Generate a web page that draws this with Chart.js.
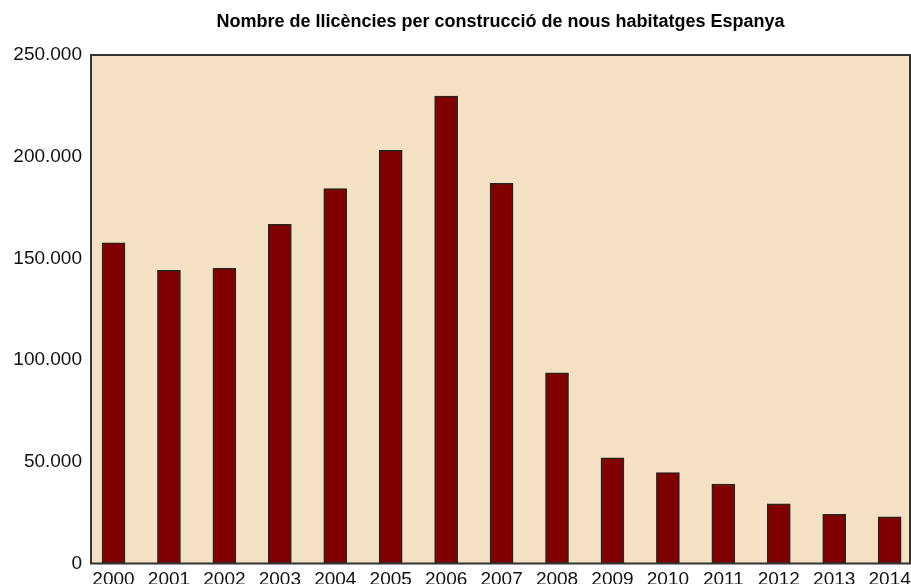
<html>
<head>
  <title>Llicències</title>
  <script src="https://cdn.jsdelivr.net/npm/chart.js"></script>
  <style>
    body { margin: 0; background: #fff; }
    #wrap { width: 911px; height: 584px; }
  </style>
</head>
<body>
  <div id="wrap"><canvas id="licChart"></canvas></div>

  <script>
    // Data
    const years = ['2000', '2001', '2002', '2003', '2004', '2005', '2006', '2007',
                   '2008', '2009', '2010', '2011', '2012', '2013', '2014'];
    const licences = [157600, 144100, 145100, 166800, 184300, 203100, 229800, 186900,
                      93800, 51900, 44700, 39100, 29300, 24200, 22900];
    const yTicks = [0, 50000, 100000, 150000, 200000, 250000];

    const titleText = 'Nombre de llicències per construcció de nous habitatges Espanya';
    const fontFamily = "'Liberation Sans', Arial, sans-serif";

    // Thousands separator with a dot
    function formatNum(v) {
      return String(v).replace(/\B(?=(\d{3})+(?!\d))/g, '.');
    }

    // Background and frame of the plot area
    const plotFrame = {
      id: 'plotFrame',
      beforeDatasetsDraw(chart) {
        const { ctx, chartArea: a } = chart;
        ctx.save();
        ctx.fillStyle = '#F4E0C2';
        ctx.fillRect(a.left, a.top, a.right - a.left, a.bottom - a.top);
        ctx.restore();
      },
      afterDatasetsDraw(chart) {
        const { ctx, chartArea: a } = chart;
        ctx.save();
        ctx.strokeStyle = '#333';
        ctx.lineWidth = 2;
        ctx.strokeRect(a.left, a.top, a.right - a.left, a.bottom - a.top);
        ctx.restore();
      }
    };

    new Chart(document.getElementById('licChart'), {
      type: 'bar',
      data: {
        datasets: [{
          data: licences.map((v, i) => ({ x: i, y: v })),
          backgroundColor: '#800000',
          borderColor: '#2b2020',
          borderWidth: 1.5,
          borderSkipped: false,
          barThickness: 23
        }]
      },
      options: {
        responsive: true,
        maintainAspectRatio: false,
        animation: false,
        layout: { padding: { left: 0, right: 1, top: 0, bottom: 0 } },
        plugins: {
          legend: { display: false },
          tooltip: { enabled: false },
          title: {
            display: true,
            text: titleText,
            fullSize: false,
            color: '#000',
            font: { family: fontFamily, size: 18, weight: 'bold', lineHeight: 1.2 },
            padding: { top: 11, bottom: 22.4 }
          }
        },
        scales: {
          x: {
            type: 'linear',
            offset: false,
            min: -0.406,
            max: 14.367,
            grid: { display: false },
            border: { display: false },
            afterBuildTicks: scale => {
              scale.ticks = years.map((_, i) => ({ value: i }));
            },
            afterFit: scale => { scale.height = 20.5; },
            ticks: {
              autoSkip: false,
              maxRotation: 0,
              padding: -3,
              color: '#111',
              font: { family: fontFamily, size: 19 },
              callback: v => years[v]
            }
          },
          y: {
            min: 0,
            max: 250000,
            grid: { display: false },
            border: { display: false },
            afterBuildTicks: scale => {
              scale.ticks = yTicks.map(v => ({ value: v }));
            },
            afterFit: scale => { scale.width = 91; },
            ticks: {
              padding: 1,
              color: '#111',
              font: { family: fontFamily, size: 19 },
              callback: v => formatNum(v)
            }
          }
        }
      },
      plugins: [plotFrame]
    });
  </script>
</body>
</html>
